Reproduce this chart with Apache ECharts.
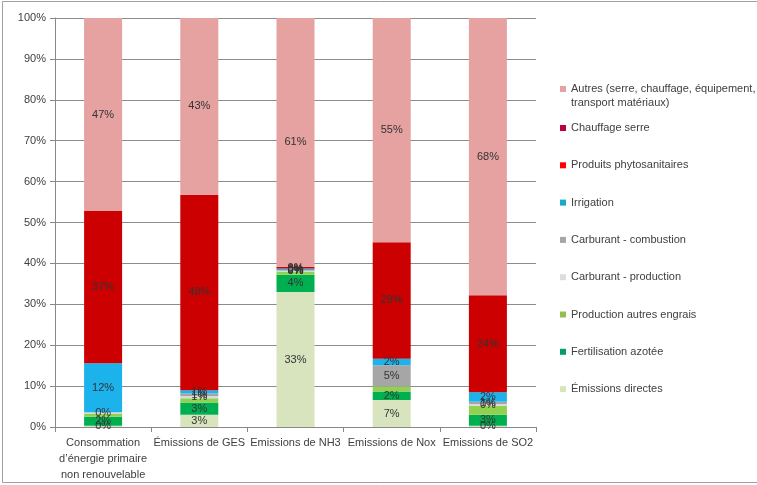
<!DOCTYPE html>
<html>
<head>
<meta charset="utf-8">
<script src="https://cdn.jsdelivr.net/npm/echarts@6/dist/echarts.min.js"></script>
<style>html,body{margin:0;padding:0;background:#fff;}#c{width:757px;height:485px;}</style>
</head>
<body>
<div id="c"></div>
<script>
const categories = ['Consommation\nd\u2019énergie primaire\nnon renouvelable', 'Émissions de GES', 'Emissions de NH3', 'Emissions de Nox', 'Emissions de SO2'];
const yTicks = [0, 10, 20, 30, 40, 50, 60, 70, 80, 90, 100];

const emissionsDirectes = [0.3, 3.0, 33.0, 6.6, 0.3];
const fertilisationAzotee = [2.2, 3.0, 4.2, 2.1, 2.7];
const productionAutresEngrais = [0.7, 1.0, 0.8, 1.2, 2.2];
const carburantProduction = [0.4, 0.6, 0.2, null, 0.4];
const carburantCombustion = [null, 0.6, 0.1, 5.2, 0.6];
const irrigation = [12.0, 0.8, 0.4, 1.6, 2.3];
const produitsPhyto = [null, null, 0.1, null, null];
const chauffageSerre = [37.2, 47.8, 0.4, 28.5, 23.7];
const autres = [47.2, 43.2, 60.8, 54.8, 67.8];

const seriesNames = ['Émissions directes', 'Fertilisation azotée', 'Production autres engrais', 'Carburant - production', 'Carburant - combustion', 'Irrigation', 'Produits phytosanitaires', 'Chauffage serre', 'Autres (serre, chauffage, équipement, transport matériaux)'];
const seriesData = [emissionsDirectes, fertilisationAzotee, productionAutresEngrais, carburantProduction, carburantCombustion, irrigation, produitsPhyto, chauffageSerre, autres];
const seriesColors = ['#D7E4BD', '#00B050', '#92D050', '#D9D9D9', '#A6A6A6', '#1CB2EC', '#FF0000', '#CC0000', '#E6A1A1'];
const legendColors = ['#D7E4BD', '#00A060', '#92C050', '#DDDDDD', '#A6A6A6', '#1AA8C8', '#FF0000', '#C0003C', '#E6A1A1'];
const showLabels = [true, true, false, true, true, true, true, true, true];

const FONT = 'Liberation Sans';
const txt = '#404040';

const series = seriesNames.map((n, i) => ({
  name: n,
  type: 'bar',
  stack: 'total',
  barWidth: 38,
  data: seriesData[i],
  itemStyle: { color: seriesColors[i] },
  label: {
    show: showLabels[i],
    position: 'inside',
    color: '#333',
    fontSize: 11,
    fontFamily: FONT,
    formatter: p => Math.round(p.value) + '%'
  },
  emphasis: { disabled: true }
}));

const legendOrder = seriesNames.slice().reverse();
const legends = [
  {
    orient: 'vertical', left: 555, top: 63, itemWidth: 6, itemHeight: 6, icon: 'rect',
    data: [{ name: legendOrder[0], itemStyle: { color: legendColors[8] } }],
    formatter: () => ' \nAutres (serre, chauffage, équipement,\ntransport matériaux)',
    textStyle: { color: txt, fontSize: 11, fontFamily: FONT, lineHeight: 14 },
    selectedMode: false
  },
  {
    orient: 'vertical', left: 555, top: 116, itemWidth: 6, itemHeight: 6, icon: 'rect', itemGap: 23.3,
    data: legendOrder.slice(1).map((n) => ({ name: n, itemStyle: { color: legendColors[seriesNames.indexOf(n)] } })),
    textStyle: { color: txt, fontSize: 11, fontFamily: FONT, lineHeight: 14 },
    selectedMode: false
  }
];

const chart = echarts.init(document.getElementById('c'), null, { renderer: 'canvas' });
chart.setOption({
  animation: false,
  backgroundColor: '#fff',
  textStyle: { fontFamily: FONT },
  grid: { left: 55, right: 221, top: 18, bottom: 58, containLabel: false },
  legend: legends,
  xAxis: {
    type: 'category',
    data: categories,
    axisLine: { show: true, lineStyle: { color: '#888', width: 1 } },
    axisTick: { show: true, length: 5, lineStyle: { color: '#888' } },
    axisLabel: { color: txt, fontSize: 11, fontFamily: FONT, lineHeight: 16, margin: 8, interval: 0 }
  },
  yAxis: {
    type: 'value',
    min: 0, max: 100, interval: 10,
    axisLine: { show: true, lineStyle: { color: '#888', width: 1 } },
    axisTick: { show: true, length: 5, lineStyle: { color: '#888' } },
    axisLabel: { color: txt, fontSize: 11, fontFamily: FONT, margin: 9,
      formatter: v => (yTicks.indexOf(v) >= 0 ? v + '%' : '') },
    splitLine: { show: true, lineStyle: { color: '#8c8c8c', width: 1 } }
  },
  graphic: [{
    type: 'rect', silent: true, z: -1,
    shape: { x: 2.5, y: 1.5, width: 800, height: 481 },
    style: { fill: 'none', stroke: '#a0a0a0', lineWidth: 1 }
  }],
  series: series
});
</script>
</body>
</html>
